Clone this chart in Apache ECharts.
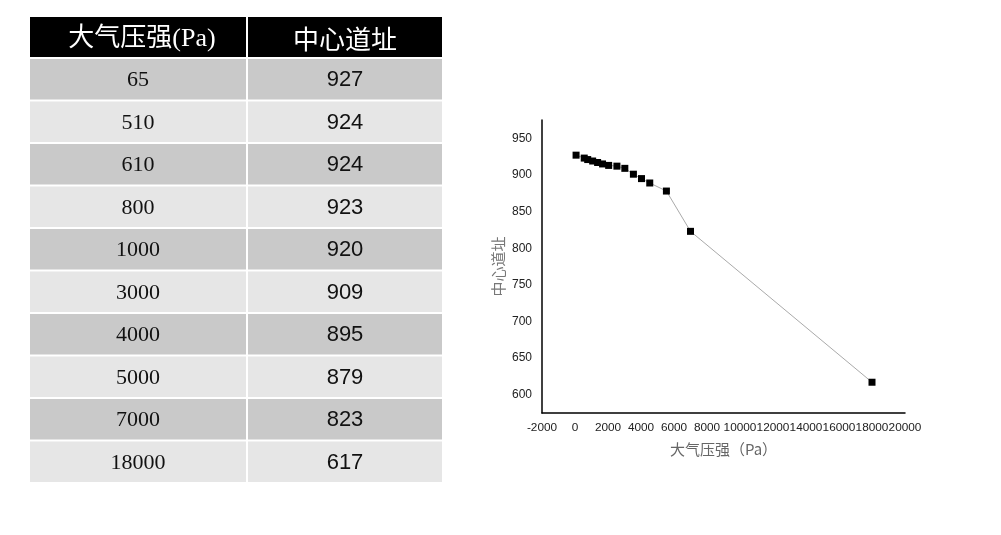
<!DOCTYPE html>
<html>
<head>
<meta charset="utf-8">
<script src="https://cdn.jsdelivr.net/npm/echarts@6/dist/echarts.min.js"></script>
<style>
html,body{margin:0;padding:0;background:#fff;}
#chart{width:1001px;height:535px;}
</style>
</head>
<body>
<div id="chart"></div>
<script>
// Table data
const tableHeaders = ['大气压强(Pa)', '中心道址'];
const tablePressure = ['65', '510', '610', '800', '1000', '3000', '4000', '5000', '7000', '18000'];
const tableCenter = ['927', '924', '924', '923', '920', '909', '895', '879', '823', '617'];

// Plot data
const plotPressure = [65, 560, 770, 1070, 1370, 1670, 2040, 2540, 3020, 3540, 4030, 4530, 5540, 7000, 18000];
const plotCenter = [927, 923, 921, 919, 917, 915, 913, 912, 909, 901, 895, 889, 878, 823, 617];

const xTicks = { min: -2000, max: 20000, interval: 2000 };
const yTicks = { min: 575, max: 975, interval: 25, labelStep: 50 };

const chart = echarts.init(document.getElementById('chart'));

// table graphics
const tX = 30, tW1 = 216, tW2 = 194, gap = 2, headTop = 17, headH = 40, rowTop = 58, rowH = 42.5;
const graphics = [];
graphics.push({ type: 'rect', shape: { x: tX, y: headTop, width: tW1, height: headH }, style: { fill: '#000' } });
graphics.push({ type: 'rect', shape: { x: tX + tW1 + gap, y: headTop, width: tW2, height: headH }, style: { fill: '#000' } });
graphics.push({ type: 'text', x: tX + tW1 / 2 + 4, y: headTop + headH / 2 + 2, style: { text: tableHeaders[0], fill: '#fff', font: '26px "Liberation Serif", "Noto Sans CJK SC", serif', align: 'center', verticalAlign: 'middle' } });
graphics.push({ type: 'text', x: tX + tW1 + gap + tW2 / 2, y: headTop + headH / 2 + 2, style: { text: tableHeaders[1], fill: '#fff', font: '26px "Noto Sans CJK SC", sans-serif', align: 'center', verticalAlign: 'middle' } });
tablePressure.forEach((p, i) => {
  const y = rowTop + i * rowH;
  const fill = i % 2 === 0 ? '#c9c9c9' : '#e6e6e6';
  graphics.push({ type: 'rect', shape: { x: tX, y: y + 1, width: tW1, height: rowH - 2 }, style: { fill } });
  graphics.push({ type: 'rect', shape: { x: tX + tW1 + gap, y: y + 1, width: tW2, height: rowH - 2 }, style: { fill } });
  graphics.push({ type: 'text', x: tX + tW1 / 2, y: y + rowH / 2 + 1, style: { text: p, fill: '#111', font: '22px "Liberation Serif", serif', align: 'center', verticalAlign: 'middle' } });
  graphics.push({ type: 'text', x: tX + tW1 + gap + tW2 / 2, y: y + rowH / 2 + 1, style: { text: tableCenter[i], fill: '#111', font: '22px "Liberation Sans", sans-serif', align: 'center', verticalAlign: 'middle' } });
});

chart.setOption({
  animation: false,
  backgroundColor: '#fff',
  graphic: graphics,
  grid: { left: 542, top: 120, right: 96, bottom: 122, containLabel: false },
  xAxis: {
    type: 'value', min: xTicks.min, max: xTicks.max, interval: xTicks.interval,
    name: '大气压强（Pa）', nameLocation: 'middle', nameGap: 29,
    nameTextStyle: { color: '#666', fontSize: 15, fontFamily: '"Noto Sans CJK SC", sans-serif' },
    axisLine: { show: true, onZero: false, lineStyle: { color: '#000', width: 1.5 } },
    axisTick: { show: false },
    splitLine: { show: false },
    axisLabel: {
      color: '#222', fontSize: 11.8, margin: 9, fontFamily: '"Liberation Sans", Arial, sans-serif',
      showMinLabel: true, showMaxLabel: true, hideOverlap: false,
      formatter: v => String(v)
    }
  },
  yAxis: {
    type: 'value', min: yTicks.min, max: yTicks.max, interval: yTicks.interval,
    name: '中心道址', nameLocation: 'middle', nameGap: 36, nameRotate: 90,
    nameTextStyle: { color: '#777', fontSize: 15, fontFamily: '"Noto Sans CJK SC", sans-serif' },
    axisLine: { show: true, onZero: false, lineStyle: { color: '#000', width: 1.5 } },
    axisTick: { show: false },
    splitLine: { show: false },
    axisLabel: {
      color: '#222', fontSize: 12, margin: 10, fontFamily: '"Liberation Sans", Arial, sans-serif',
      formatter: v => (v % yTicks.labelStep === 0 ? String(v) : '')
    }
  },
  series: [{
    type: 'line',
    data: plotPressure.map((x, i) => [x, plotCenter[i]]),
    symbol: 'rect', symbolSize: 7,
    itemStyle: { color: '#000' },
    lineStyle: { color: '#aaa', width: 1 }
  }]
});
</script>
</body>
</html>
